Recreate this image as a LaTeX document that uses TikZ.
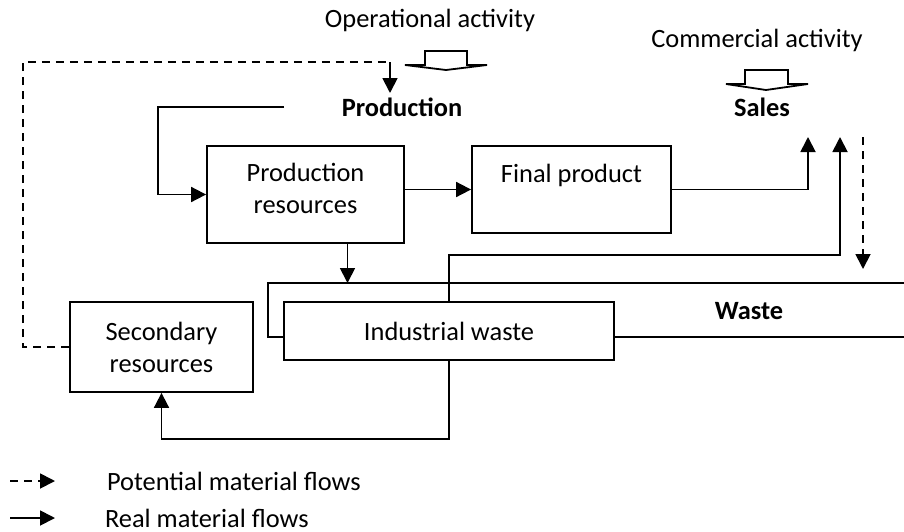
\documentclass[tikz,border=0pt]{standalone}
\usepackage{fontspec}
\setmainfont{Carlito}
\usetikzlibrary{arrows.meta,positioning}

\tikzset{
	box/.style={draw, line width=0.9pt, align=center, inner sep=0pt},
	flow/.style={-{Triangle[length=7.5pt,width=7.5pt]}, line width=0.9pt},
	potential/.style={flow, dash pattern=on 4pt off 3pt},
	plain/.style={line width=0.9pt},
	hollow/.style={draw, line width=0.9pt, fill=white}
}

\begin{document}
\begin{tikzpicture}[x=0.5pt, y=-0.5pt, font=\fontsize{13.2}{16}\selectfont]
	\useasboundingbox (0,0) rectangle (904,531);

	\node (operational) at (430,20) {Operational activity};
	\node (commercial) at (757,40) {Commercial activity};
	\node[font=\fontsize{13.2}{16}\selectfont\bfseries] (production) at (402,107) {Production};
	\node[font=\fontsize{13.2}{16}\selectfont\bfseries] (sales) at (762,107) {Sales};
	\node[font=\fontsize{13.2}{16}\selectfont\bfseries] (waste) at (749,311) {Waste};

	\node[box, minimum width=98.5pt, minimum height=48.5pt, text depth=6pt] (prodres) at (305.5,194.5) {Production\\resources};
	\node[box, minimum width=99.5pt, minimum height=43.5pt] (final) at (571.5,189.5) {Final product\\\mbox{}};
	\node[box, minimum width=165pt, minimum height=29pt] (indw) at (449,331) {Industrial waste};
	\node[box, minimum width=91.5pt, minimum height=45pt] (secres) at (161.5,347) {Secondary\\resources};

	% block arrows
	\draw[hollow] (425,51) -- (467,51) -- (467,65) -- (487,65) -- (446,70) -- (405,65) -- (425,65) -- cycle;
	\draw[hollow] (745,70) -- (788,70) -- (788,84) -- (808,84) -- (766,90) -- (726,84) -- (745,84) -- cycle;

	\coordinate (prodin) at (284,107);
	\coordinate (loopcorner) at (390,62);
	\coordinate (prodtop) at (390,93);
	\coordinate (salesA) at (808,137);
	\coordinate (salesB) at (840,137);
	\coordinate (salesC) at (863,137);
	\coordinate (dashend) at (863,269);
	\coordinate (chanR) at (904,283);
	\coordinate (chanL) at (268,337);
	\coordinate (chanB) at (904,337);

	\draw[flow] (prodin) -- ++(-126,0) |- (prodres.west);
	\draw[flow] (prodres.east |- final.west) -- (final.west);
	\draw[flow] (final.east) -| (salesA);
	\draw[flow] ([xshift=21pt]prodres.south) -- ([xshift=21pt]prodres.south |- chanR);
	\draw[plain] (chanR) -| (chanL) -- (indw.west |- chanL);
	\draw[plain] (indw.east |- chanB) -- (chanB);
	\draw[flow] (indw.north) -- ++(0,-46) -| (salesB);
	\draw[potential] (salesC) -- (dashend);
	\draw[flow] (indw.south) -- ++(0,78) -| (secres.south);
	\draw[plain, dash pattern=on 4pt off 3pt] (secres.west) -| (23,62) -- (loopcorner);
	\draw[flow] (loopcorner) -- (prodtop);

	% legend
	\node[anchor=west] (potlabel) at (100,481) {Potential material flows};
	\node[anchor=west] (reallabel) at (98,518) {Real material flows};
	\draw[potential] (10,481) -- ([xshift=-22.5pt]potlabel.west);
	\draw[flow] (10,518) -- ([xshift=-21.5pt]reallabel.west);
\end{tikzpicture}
\end{document}
